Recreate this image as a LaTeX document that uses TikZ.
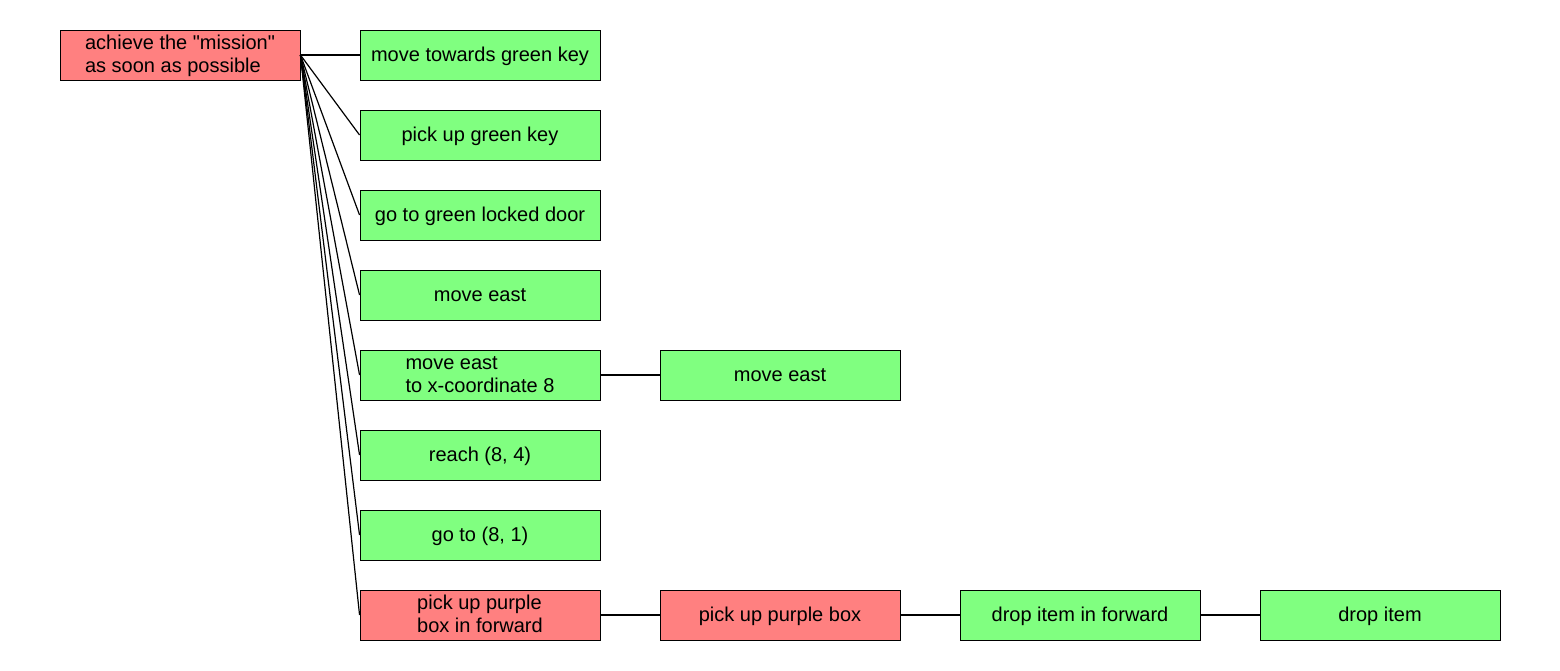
\documentclass[tikz,border=0pt]{standalone}
\usepackage{fontspec}
\setmainfont{Liberation Sans}[Ligatures=TeXOff]
\definecolor{boxred}{HTML}{FF8080}
\definecolor{boxgreen}{HTML}{80FF80}
\newcommand{\boxtext}[1]{\raisebox{-1.5pt}[\height][\depth]{\begin{tabular}{@{}l@{}}#1\end{tabular}}}
\begin{document}
\begin{tikzpicture}[x=1pt,y=-1pt,
  box/.style={draw=black,line width=0.9pt,minimum width=240pt,minimum height=50pt,inner sep=0pt,
    font=\fontsize{20}{23}\selectfont},
  redbox/.style={box,fill=boxred},
  greenbox/.style={box,fill=boxgreen},
  edge/.style={draw=black,line width=1.2pt}]
\useasboundingbox (0,0) rectangle (1560,670);
\node[redbox] (root) at (180,55) {\boxtext{achieve the "mission"\\as soon as possible}};
\node[greenbox] (c1) at (480,55) {\boxtext{move towards green key}};
\node[greenbox] (c2) at (480,135) {\boxtext{pick up green key}};
\node[greenbox] (c3) at (480,215) {\boxtext{go to green locked door}};
\node[greenbox] (c4) at (480,295) {\boxtext{move east}};
\node[greenbox] (c5) at (480,375) {\boxtext{move east\\to x-coordinate 8}};
\node[greenbox] (c6) at (480,455) {\boxtext{reach (8, 4)}};
\node[greenbox] (c7) at (480,535) {\boxtext{go to (8, 1)}};
\node[redbox] (c8) at (480,615) {\boxtext{pick up purple\\box in forward}};
\node[greenbox] (d5) at (780,375) {\boxtext{move east}};
\node[redbox] (d8) at (780,615) {\boxtext{pick up purple box}};
\node[greenbox] (e8) at (1080,615) {\boxtext{drop item in forward}};
\node[greenbox] (f8) at (1380,615) {\boxtext{drop item}};
\foreach \c in {c1,c2,c3,c4,c5,c6,c7,c8}
  \draw[edge] (root.east) -- (\c.west);
\draw[edge] (c5.east) -- (d5.west);
\draw[edge] (c8.east) -- (d8.west);
\draw[edge] (d8.east) -- (e8.west);
\draw[edge] (e8.east) -- (f8.west);
\end{tikzpicture}
\end{document}
